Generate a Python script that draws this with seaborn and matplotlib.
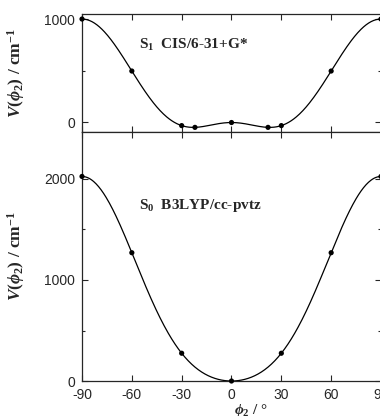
import numpy as np
import pandas as pd
import matplotlib
matplotlib.use('Agg')
import matplotlib.pyplot as plt
import seaborn as sns
from matplotlib.ticker import MultipleLocator

# S1 CIS/6-31+G* torsional potential
phi_s1 = [-90, -60, -30, -22, 0, 22, 30, 60, 90]
v_s1 = [1000, 495, -35, -52, -5, -52, -35, 495, 1000]

# S0 B3LYP/cc-pvtz torsional potential
phi_s0 = [-90, -60, -30, 0, 30, 60, 90]
v_s0 = [2025, 1270, 275, 0, 275, 1270, 2025]

x_ticks = [-90, -60, -30, 0, 30, 60, 90]

sns.set_style('ticks')
plt.rcParams['font.family'] = ['Liberation Sans', 'DejaVu Sans']
plt.rcParams['mathtext.fontset'] = 'custom'
plt.rcParams['mathtext.rm'] = 'Liberation Serif:bold'
plt.rcParams['mathtext.it'] = 'Liberation Serif:italic:bold'
plt.rcParams['mathtext.bf'] = 'Liberation Serif:bold'


def cos_fit(phi, v, nterms):
    # fit V(phi) = sum a_n cos(2 n phi) through the computed points
    p = np.radians(phi)
    A = np.column_stack([np.cos(2 * n * p) for n in range(nterms)])
    coef, *_ = np.linalg.lstsq(A, np.array(v, float), rcond=None)
    grid = np.linspace(-90, 90, 361)
    g = np.radians(grid)
    curve = np.column_stack([np.cos(2 * n * g) for n in range(nterms)]) @ coef
    return pd.DataFrame({'phi': grid, 'V': curve})


fig = plt.figure(figsize=(3.8, 4.16), dpi=100)
ax1 = fig.add_axes([0.2158, 0.6827, 0.7868, 0.2837])
ax2 = fig.add_axes([0.2158, 0.0841, 0.7868, 0.5986])

serif = dict(family='Liberation Serif', weight='bold')

for ax, phi, v, nt in [(ax1, phi_s1, v_s1, 5), (ax2, phi_s0, v_s0, 4)]:
    fit = cos_fit(phi, v, nt)
    sns.lineplot(data=fit, x='phi', y='V', ax=ax, color='black', lw=0.9)
    sns.scatterplot(x=phi, y=v, ax=ax, color='black', s=14, edgecolor='none',
                    zorder=3, clip_on=False)
    ax.set_xlim(-90, 90)
    ax.set_xticks(x_ticks)
    ax.tick_params(direction='in', top=True, right=True, length=4, width=0.8,
                   labelsize=10, pad=5)
    ax.tick_params(which='minor', direction='in', length=2.5, width=0.8,
                   right=True)
    for s in ax.spines.values():
        s.set_linewidth(0.9)
    ax.set_ylabel(r'$V(\phi_2)$ / cm$^{-1}$', fontsize=12.5, **serif)
    ax.yaxis.set_label_coords(-0.185, 0.5)

ax1.set_ylim(-97, 1049)
ax1.set_yticks([0, 1000])
ax1.yaxis.set_minor_locator(MultipleLocator(500))
ax1.set_xticklabels([])
ax1.set_xlabel('')
ax1.text(0.19, 0.7, r'S$_{\mathregular{1}}$  CIS/6-31+G*', transform=ax1.transAxes,
         fontsize=11, **serif)

ax2.set_ylim(0, 2465)
ax2.set_yticks([0, 1000, 2000])
ax2.yaxis.set_minor_locator(MultipleLocator(500))
ax2.set_xticklabels([str(t) for t in x_ticks])
ax2.set_xlabel(r'$\phi_2$ / $\degree$', fontsize=11, **serif)
ax2.xaxis.set_label_coords(0.565, -0.085)
ax2.text(0.19, 0.69, r'S$_{\mathregular{0}}$  B3LYP/cc-pvtz', transform=ax2.transAxes,
         fontsize=11, **serif)

fig.savefig('out.png', dpi=100)
